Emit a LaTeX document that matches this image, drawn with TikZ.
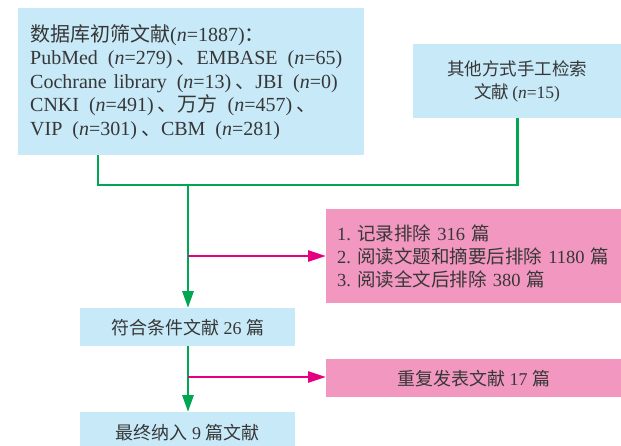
\documentclass[tikz,border=0pt]{standalone}
\usepackage{fontspec}
\setmainfont{Liberation Serif}
\newfontfamily\cjk{Noto Sans CJK SC}
\usetikzlibrary{arrows.meta}
\newcommand{\zhtxt}[1]{{\cjk #1}}
\newcommand{\nval}[1]{\hspace{0.5em}(\textit{n}=#1)\hspace{0.2em}}
\definecolor{boxblue}{RGB}{199,233,248}
\definecolor{boxpink}{RGB}{242,151,192}
\definecolor{flowgreen}{RGB}{0,166,81}
\definecolor{flowpink}{RGB}{228,0,127}
\definecolor{txtgray}{RGB}{55,55,55}
\tikzset{
  bluebox/.style={fill=boxblue, draw=none, text=txtgray, font=\fontsize{17.5}{23.5}\selectfont},
  pinkbox/.style={fill=boxpink, draw=none, text=txtgray, font=\fontsize{18}{23}\selectfont},
  gline/.style={draw=flowgreen, line width=2.8pt},
  garrow/.style={gline, -{Triangle[length=17pt,width=11pt]}},
  parrow/.style={draw=flowpink, line width=2.4pt, -{Triangle[length=18pt,width=11pt]}}
}
\begin{document}
\begin{tikzpicture}[x=1pt,y=-1pt]
\useasboundingbox (0,0) rectangle (621,445);
\node[bluebox, font=\fontsize{20}{23.5}\selectfont, anchor=north west,
      minimum width=346pt, minimum height=147pt,
      text width=322pt, inner xsep=12pt, align=left] (db) at (18,8)
  {\zhtxt{数据库初筛文献}(\textit{n}=1887)\zhtxt{：}\\
   PubMed\nval{279}\zhtxt{、}EMBASE\nval{65}\\
   Cochrane library\nval{13}\zhtxt{、}JBI\nval{0}\\
   CNKI\nval{491}\zhtxt{、万方}\nval{457}\zhtxt{、}\\
   VIP\nval{301}\zhtxt{、}CBM\nval{281}};
\node[bluebox, anchor=north west, minimum width=208pt, minimum height=74pt, align=center] (other) at (413,44)
  {\zhtxt{其他方式手工检索}\\ \zhtxt{文献}\,(\textit{n}=15)};
\node[pinkbox, font=\fontsize{18.5}{23}\selectfont, anchor=north west,
      minimum width=295pt, minimum height=94pt,
      text width=277pt, inner xsep=11pt, align=left] (excl) at (326,209)
  {1.\ \zhtxt{记录排除}\ 316\ \zhtxt{篇}\\
   2.\ \zhtxt{阅读文题和摘要后排除}\ 1180\ \zhtxt{篇}\\
   3.\ \zhtxt{阅读全文后排除}\ 380\ \zhtxt{篇}};
\node[bluebox, font=\fontsize{18}{23}\selectfont, anchor=north west, minimum width=215pt, minimum height=38pt] (elig) at (80,308)
  {\zhtxt{符合条件文献}\ 26\ \zhtxt{篇}};
\node[pinkbox, anchor=north west, minimum width=295pt, minimum height=38pt] (dup) at (326,359)
  {\zhtxt{重复发表文献}\ 17\ \zhtxt{篇}};
\node[bluebox, font=\fontsize{18}{23}\selectfont, anchor=north west, minimum width=215pt, minimum height=40pt] (final) at (80,412)
  {\zhtxt{最终纳入}\ 9\ \zhtxt{篇文献}};
\coordinate (j1) at (98,185);
\coordinate (jm) at (188,185);
\coordinate (j2) at (other.south |- j1);
\coordinate (p1) at (188,256);
\coordinate (p2) at (188,377);
\draw[gline] (j1 |- db.south) -- (j1) -- (j2) -- (other.south);
\draw[garrow] (jm) -- (elig.north -| jm);
\draw[garrow] (elig.south -| jm) -- (final.north -| jm);
\draw[parrow] (p1) -- (excl.west |- p1);
\draw[parrow] (p2) -- (dup.west |- p2);
\end{tikzpicture}
\end{document}
